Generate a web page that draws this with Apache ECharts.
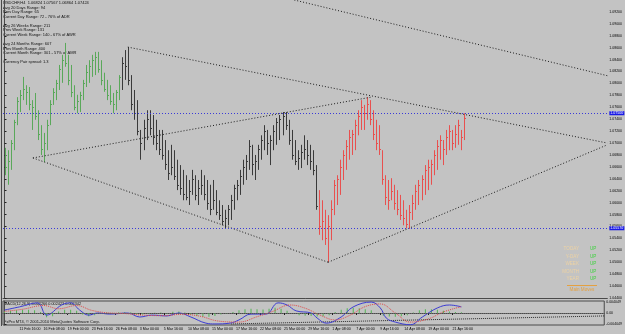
<!DOCTYPE html>
<html><head><meta charset="utf-8">
<script src="https://cdn.jsdelivr.net/npm/echarts@6/dist/echarts.min.js"></script>
<style>html,body{margin:0;padding:0;background:#c3c3c3}#c{width:625px;height:334px}</style>
</head><body><div id="c"></div>
<script>
// ---------- data ----------
const SLOT_COUNT = 200; // H8-slots on the time axis (bars + empty space on the right)
const tickLabels = ["10 Feb 2010","11 Feb 16:00","16 Feb 08:00","19 Feb 00:00","23 Feb 16:00","26 Feb 08:00","3 Mar 00:00","5 Mar 16:00","10 Mar 08:00","15 Mar 00:00","17 Mar 16:00","22 Mar 08:00","25 Mar 00:00","29 Mar 16:00","1 Apr 08:00","7 Apr 00:00","9 Apr 16:00","14 Apr 08:00","19 Apr 00:00","21 Apr 16:00"];
const tickSlots = [0,5,13,21,29,37,45,53,61,69,77,85,93,101,109,117,125,133,141,149];

const high = [
1.0692,1.0688,1.0705,1.0739,1.0777,1.0789,1.0811,1.0797,1.0794,
1.0772,1.0784,1.0755,1.0730,1.0717,1.0739,1.0772,1.0792,1.0806,1.0831,1.0848,1.0868,1.0848,1.0831,1.0797,1.0781,1.0786,1.0806,
1.0831,1.0839,1.0848,1.0853,1.0853,1.0839,1.0818,1.0806,1.0797,1.0784,1.0789,1.0814,1.0844,1.0856,1.0861,1.0814,1.0789,1.0772,
1.0722,1.0739,1.0755,1.0755,1.0747,1.0739,1.0722,1.0722,1.0705,1.0688,1.0697,1.0688,1.0672,1.0663,1.0655,1.0646,1.0638,1.0655,
1.0646,1.0638,1.0655,1.0646,1.0638,1.0630,1.0638,1.0621,1.0604,1.0596,1.0588,1.0596,1.0613,1.0630,1.0638,1.0655,1.0672,1.0680,
1.0705,1.0697,1.0680,1.0697,1.0713,1.0730,1.0722,1.0713,1.0730,1.0742,1.0747,1.0752,1.0752,1.0739,1.0722,1.0705,1.0688,1.0697,
1.0713,1.0705,1.0697,1.0688,1.0663,1.0621,1.0604,1.0588,1.0579,1.0604,1.0638,1.0646,1.0672,1.0688,1.0705,1.0722,1.0722,1.0739,
1.0755,1.0772,1.0764,1.0777,1.0772,
1.0755,1.0739,1.0730,1.0688,1.0646,1.0638,1.0641,1.0630,1.0621,1.0613,1.0604,1.0588,1.0596,1.0613,1.0630,1.0638,1.0646,1.0663,1.0672,1.0672,1.0688,1.0705,1.0713,1.0705,1.0722,1.0730,1.0722,1.0730,1.0739,1.0722,1.0750];
const low = [
1.0646,1.0630,1.0655,1.0688,1.0730,1.0752,1.0772,1.0764,1.0755,
1.0722,1.0739,1.0705,1.0680,1.0668,1.0688,1.0730,1.0764,1.0772,1.0789,1.0801,1.0828,1.0797,1.0777,1.0755,1.0750,1.0752,1.0772,
1.0794,1.0801,1.0811,1.0814,1.0818,1.0797,1.0786,1.0772,1.0764,1.0750,1.0755,1.0772,1.0789,1.0806,1.0797,1.0755,1.0739,1.0713,
1.0672,1.0688,1.0705,1.0713,1.0697,1.0688,1.0680,1.0672,1.0655,1.0638,1.0646,1.0638,1.0621,1.0613,1.0604,1.0604,1.0596,1.0613,
1.0604,1.0596,1.0613,1.0604,1.0588,1.0579,1.0588,1.0579,1.0571,1.0562,1.0557,1.0562,1.0571,1.0588,1.0604,1.0613,1.0630,1.0638,
1.0655,1.0646,1.0638,1.0655,1.0672,1.0688,1.0680,1.0663,1.0688,1.0697,1.0705,1.0713,1.0722,1.0697,1.0672,1.0663,1.0655,1.0658,
1.0672,1.0663,1.0655,1.0646,1.0588,1.0546,1.0537,1.0529,1.0500,1.0537,1.0579,1.0596,1.0613,1.0638,1.0655,1.0672,1.0680,1.0688,
1.0713,1.0722,1.0722,1.0739,1.0730,
1.0705,1.0688,1.0680,1.0630,1.0596,1.0588,1.0604,1.0588,1.0579,1.0571,1.0562,1.0557,1.0556,1.0571,1.0588,1.0596,1.0604,1.0613,1.0621,1.0630,1.0646,1.0655,1.0672,1.0663,1.0680,1.0688,1.0688,1.0692,1.0697,1.0688,1.0705];
const close = [
1.0660,1.0670,1.0700,1.0735,1.0770,1.0780,1.0790,1.0785,1.0765,
1.0760,1.0745,1.0715,1.0690,1.0700,1.0730,1.0765,1.0785,1.0800,1.0825,1.0840,1.0835,1.0805,1.0785,1.0760,1.0770,1.0780,1.0800,
1.0820,1.0830,1.0840,1.0845,1.0825,1.0805,1.0790,1.0780,1.0770,1.0765,1.0785,1.0810,1.0835,1.0830,1.0805,1.0765,1.0750,1.0720,
1.0700,1.0725,1.0740,1.0725,1.0710,1.0700,1.0690,1.0680,1.0665,1.0650,1.0660,1.0645,1.0630,1.0625,1.0615,1.0610,1.0620,1.0640,
1.0612,1.0625,1.0630,1.0615,1.0600,1.0590,1.0605,1.0585,1.0580,1.0570,1.0575,1.0590,1.0605,1.0625,1.0630,1.0645,1.0660,1.0670,
1.0695,1.0665,1.0670,1.0690,1.0705,1.0720,1.0700,1.0705,1.0720,1.0735,1.0740,1.0745,1.0730,1.0705,1.0680,1.0670,1.0675,1.0685,
1.0690,1.0680,1.0670,1.0655,1.0595,1.0560,1.0570,1.0540,1.0560,1.0590,1.0630,1.0640,1.0660,1.0680,1.0695,1.0710,1.0715,1.0730,
1.0745,1.0760,1.0750,1.0765,1.0740,
1.0715,1.0700,1.0690,1.0640,1.0610,1.0605,1.0620,1.0600,1.0590,1.0580,1.0575,1.0565,1.0585,1.0600,1.0620,1.0630,1.0640,1.0655,1.0660,1.0665,1.0680,1.0695,1.0705,1.0690,1.0710,1.0720,1.0700,1.0715,1.0730,1.0710,1.0742];

// bar colour groups (first index of each group)
const grayFrom = 39, redFrom = 104;

// horizontal levels
const levelUpper = 1.0750, levelLower = 1.0557;
const levelUpperText = "0553 sum", levelLowerText = "0547 sum";

// trend lines [slot, price]
const trendA = [[40.8,1.0861],[199.5,1.0700]];
const trendB = [[9.4,1.0675],[121.3,1.0777]];
const trendC = [[9.4,1.0675],[107.1,1.0500]];
const trendD = [[107.1,1.0500],[199.5,1.0697]];
const trendE = [[95.9,1.0940],[199.5,1.0813]];

// MACD window
const macdMain = [[0,0.0011],[5,0.0023],[11,0.0038],[14,-0.0008],[19,0.0030],[22,0.0038],[25,0.0011],[28,-0.0008],[31,0.0000],[35,-0.0004],[41,0.0000],[45,-0.0015],[49,-0.0008],[54,-0.0011],[58,0.0000],[62,-0.0015],[67,-0.0038],[70,-0.0041],[75,-0.0038],[78,-0.0026],[82,-0.0004],[87,-0.0004],[91,0.0038],[94,0.0030],[97,0.0008],[102,0.0000],[104,-0.0019],[107,-0.0038],[112,-0.0015],[116,0.0023],[122,0.0041],[125,0.0019],[127,-0.0019],[130,-0.0034],[135,-0.0044],[139,-0.0015],[144,0.0019],[148,0.0030],[152,0.0023]];
const macdSignal = [[0,0.0006],[6,0.0014],[13,0.0028],[18,0.0016],[24,0.0028],[29,0.0010],[34,0.0001],[40,-0.0002],[46,-0.0008],[53,-0.0010],[59,-0.0005],[65,-0.0012],[71,-0.0030],[78,-0.0034],[84,-0.0014],[89,0.0005],[95,0.0030],[100,0.0018],[105,-0.0008],[110,-0.0026],[115,-0.0008],[120,0.0024],[125,0.0034],[130,0.0000],[135,-0.0034],[141,-0.0022],[146,0.0004],[152,0.0024]];
const macdHistSlots = [0,2,4,6,8,10,12,14,16,18,20,22,24,26,28,30,32,34,36,38,40,42,44,46,48,50,52,54,56,58,60,62,64,66,68,70,72,74,76,78,80,82,84,86,88,90,92,94,96,98,100,102,104,106,108,110,112,114,116,118,120,122,124,126,128,130,132,134,136,138,140,142,144,146,148,150,152];
const macdHist = [0.0006,0.0008,0.0010,0.0012,0.0012,0.0010,0.0004,-0.0016,-0.0012,0.0006,0.0012,0.0012,0.0008,-0.0006,-0.0012,-0.0008,-0.0002,0.0002,0.0000,0.0003,0.0004,0.0003,-0.0004,-0.0006,-0.0002,0.0001,0.0002,-0.0002,0.0005,0.0006,0.0002,-0.0006,-0.0010,-0.0014,-0.0014,-0.0011,-0.0006,-0.0002,0.0004,0.0010,0.0014,0.0016,0.0014,0.0013,0.0016,0.0020,0.0016,0.0008,0.0000,-0.0008,-0.0010,-0.0011,-0.0013,-0.0012,-0.0008,0.0004,0.0012,0.0018,0.0020,0.0018,0.0014,0.0010,0.0000,-0.0010,-0.0013,-0.0014,-0.0012,-0.0008,0.0002,0.0010,0.0014,0.0014,0.0012,0.0008,0.0006,0.0004,0.0003];
const macdTrend = [[75.4,-0.0041],[199.5,-0.0011]];
const macdAxisLabels = [0.004049, 0, -0.004049];

const infoLines = ["USDCHF,H4  1.06824 1.07567 1.06864 1.07424","Avg 20 Days Range: 94","Prev Day Range: 65","Current Day Range: 72 - 76% of ADR","","Avg 26 Weeks Range: 211","Prev Week Range: 131","Current Week Range: 140 - 67% of AWR","","Avg 24 Months Range: 607","Prev Month Range: 400","Current Month Range: 301 - 57% of AMR","","Currency Pair spread: 1.3"];
const statusNames = ["TODAY","Y-DAY","WEEK","MONTH","YEAR"];
const statusValues = ["UP","UP","UP","UP","UP"];
const macdTitle = "MACD(12,26,9) 0.002266 0.002423 0.002342";
const copyright = "FxPro MT4, \u00a9 2001-2010 MetaQuotes Software Corp.";

// ---------- chart ----------
const FONT = 'Liberation Sans';
const slotNames = Array.from({length: SLOT_COUNT}, (_, k) => String(k));
const tickMap = {}; tickSlots.forEach((s, k) => tickMap[s] = tickLabels[k]);
const ohlc = high.map((h, k) => [k, h, low[k], close[k]]);
const lastClose = close[close.length - 1];

function renderBar(params, api) {
  const i = api.value(0);
  const h = api.coord([i, api.value(1)]);
  const l = api.coord([i, api.value(2)]);
  const c = api.coord([i, api.value(3)]);
  const x = Math.round(h[0]) + 0.5;
  const col = i < grayFrom ? '#5aa85a' : (i < redFrom ? '#3a3a3a' : '#e8504f');
  return {type: 'group', children: [
    {type: 'line', shape: {x1: x, y1: h[1], x2: x, y2: l[1]}, style: {stroke: col, lineWidth: 1}},
    {type: 'line', shape: {x1: x, y1: Math.round(c[1]) + 0.5, x2: x + 1.5, y2: Math.round(c[1]) + 0.5}, style: {stroke: col, lineWidth: 1}}
  ]};
}

const dotted = {color: '#1c1c1c', width: 1, type: [1, 2]};
function trend(d) {
  return {type: 'line', xAxisIndex: 2, yAxisIndex: 0, data: d, symbol: 'none', silent: true, lineStyle: dotted, clip: true, z: 3};
}
function boxLabel(val, bg) {
  return {show: true, position: 'end', distance: 2, formatter: val.toFixed(5), color: '#fff', backgroundColor: bg, padding: [0, 1], fontSize: 3.6, fontFamily: FONT};
}
const levelStyle = {color: '#3a3ad8', width: 1, type: [1, 2]};

const infoGraphics = infoLines.map((t, k) => ({
  type: 'text', left: 3, top: 1 + k * 4.55,
  style: {text: t, fontSize: 4, fontFamily: FONT, fill: '#111'}
}));
const statusGraphics = [];
statusNames.forEach((t, k) => {
  statusGraphics.push({type: 'text', x: 579, y: 249 + k * 7.5, style: {text: t, fontSize: 4.6, fontFamily: FONT, fill: '#ecd2a4', align: 'right', verticalAlign: 'middle'}});
  statusGraphics.push({type: 'text', x: 590, y: 249 + k * 7.5, style: {text: statusValues[k], fontSize: 4.6, fontFamily: FONT, fill: '#3fd23f', align: 'left', verticalAlign: 'middle'}});
});
statusGraphics.push({type: 'line', shape: {x1: 567, y1: 285.5, x2: 597, y2: 285.5}, style: {stroke: '#e4a040', lineWidth: 1}});
statusGraphics.push({type: 'text', x: 582, y: 289.5, style: {text: 'Main Moves', fontSize: 4.6, fontFamily: FONT, fill: '#e4a040', align: 'center', verticalAlign: 'middle'}});

const chart = echarts.init(document.getElementById('c'), null, {renderer: 'canvas', width: 625, height: 334});
chart.setOption({
  backgroundColor: '#c3c3c3',
  animation: false,
  grid: [
    {left: 3, right: 16, top: 0, height: 298},
    {left: 3, right: 16, top: 301, height: 24, show: true, borderColor: '#4a4a4a', borderWidth: 1}
  ],
  xAxis: [
    {type: 'category', gridIndex: 0, data: slotNames, boundaryGap: true,
     axisLine: {show: true, lineStyle: {color: '#4a4a4a'}}, axisTick: {show: false}, axisLabel: {show: false}, splitLine: {show: false}},
    {type: 'category', gridIndex: 1, data: slotNames, boundaryGap: true,
     axisLine: {show: true, lineStyle: {color: '#4a4a4a'}},
     axisTick: {show: true, alignWithLabel: true, length: 2, interval: (i) => i in tickMap, lineStyle: {color: '#222'}},
     axisLabel: {interval: (i) => i in tickMap, formatter: (v, i) => tickMap[i] || '', fontSize: 3.6, fontFamily: FONT, color: '#000', align: 'left', margin: 2, hideOverlap: false},
     splitLine: {show: false}},
    {type: 'value', gridIndex: 0, min: -0.5, max: SLOT_COUNT - 0.5, show: false},
    {type: 'value', gridIndex: 1, min: -0.5, max: SLOT_COUNT - 0.5, show: false}
  ],
  yAxis: [
    {type: 'value', gridIndex: 0, position: 'right', min: 1.0440, max: 1.0940, interval: 0.002,
     axisLine: {show: true, lineStyle: {color: '#4a4a4a'}},
     axisTick: {show: true, length: 2, inside: false, lineStyle: {color: '#222'}},
     axisLabel: {formatter: (v) => v.toFixed(5), fontSize: 3.5, fontFamily: FONT, color: '#000', margin: 2, showMaxLabel: false},
     splitLine: {show: false}},
    {type: 'value', gridIndex: 1, position: 'right', min: -0.0045, max: 0.0045,
     axisLine: {show: true, lineStyle: {color: '#4a4a4a'}},
     axisTick: {show: true, length: 2, customValues: macdAxisLabels, lineStyle: {color: '#222'}},
     axisLabel: {customValues: macdAxisLabels, formatter: (v) => Math.abs(v) < 1e-9 ? '0.00' : v.toFixed(6), fontSize: 3.5, fontFamily: FONT, color: '#000', margin: 2},
     splitLine: {show: false}}
  ],
  graphic: [
    {type: 'line', shape: {x1: 1.5, y1: 0, x2: 1.5, y2: 326}, style: {stroke: '#4a4a4a', lineWidth: 1}},
    ...infoGraphics,
    ...statusGraphics,
    {type: 'text', left: 4, top: 301.5, style: {text: macdTitle, fontSize: 3.8, fontFamily: FONT, fill: '#111'}},
    {type: 'text', left: 4, top: 320, style: {text: copyright, fontSize: 4, fontFamily: FONT, fill: '#111'}}
  ],
  series: [
    {type: 'custom', xAxisIndex: 0, yAxisIndex: 0, data: ohlc, renderItem: renderBar, encode: {x: 0, y: [1, 2, 3]}, clip: true, z: 2},
    {type: 'line', xAxisIndex: 2, yAxisIndex: 0, data: [], symbol: 'none', silent: true,
     markLine: {symbol: 'none', silent: true, animation: false, precision: 6, data: [
       {yAxis: levelUpper, lineStyle: levelStyle, label: boxLabel(levelUpper, '#1a1ae6')},
       {yAxis: levelLower, lineStyle: levelStyle, label: boxLabel(levelLower, '#1a1ae6')},
       {yAxis: levelUpper, lineStyle: {opacity: 0}, label: {show: true, position: 'insideStartTop', distance: [1, 1], formatter: levelUpperText, fontSize: 3.8, fontFamily: FONT, color: '#1a1a50'}},
       {yAxis: levelLower, lineStyle: {opacity: 0}, label: {show: true, position: 'insideStartTop', distance: [1, 1], formatter: levelLowerText, fontSize: 3.8, fontFamily: FONT, color: '#1a1a50'}},
       {yAxis: lastClose, lineStyle: {opacity: 0}, label: boxLabel(lastClose, '#000')}
     ]}},
    trend(trendA), trend(trendB), trend(trendC), trend(trendD), trend(trendE),
    {type: 'bar', xAxisIndex: 1, yAxisIndex: 1, data: macdHistSlots.map((s, k) => [s, macdHist[k]]), barWidth: 1, itemStyle: {color: '#52b452'}, silent: true,
     markLine: {symbol: 'none', silent: true, precision: 6, data: [{yAxis: 0}], lineStyle: {color: '#6a6a6a', type: [1, 1], width: 1}, label: {show: false}}},
    {type: 'line', xAxisIndex: 1, yAxisIndex: 1, data: macdMain, symbol: 'none', smooth: 0.4, lineStyle: {color: '#3c3cd2', width: 1}, silent: true, z: 4},
    {type: 'line', xAxisIndex: 1, yAxisIndex: 1, data: macdSignal, symbol: 'none', smooth: 0.4, lineStyle: {color: '#e04848', width: 1, type: [1, 1]}, silent: true, z: 4},
    {type: 'line', xAxisIndex: 3, yAxisIndex: 1, data: macdTrend, symbol: 'none', lineStyle: {color: '#2a2a2a', width: 1, type: [1, 1]}, silent: true}
  ]
});
</script>
</body></html>
